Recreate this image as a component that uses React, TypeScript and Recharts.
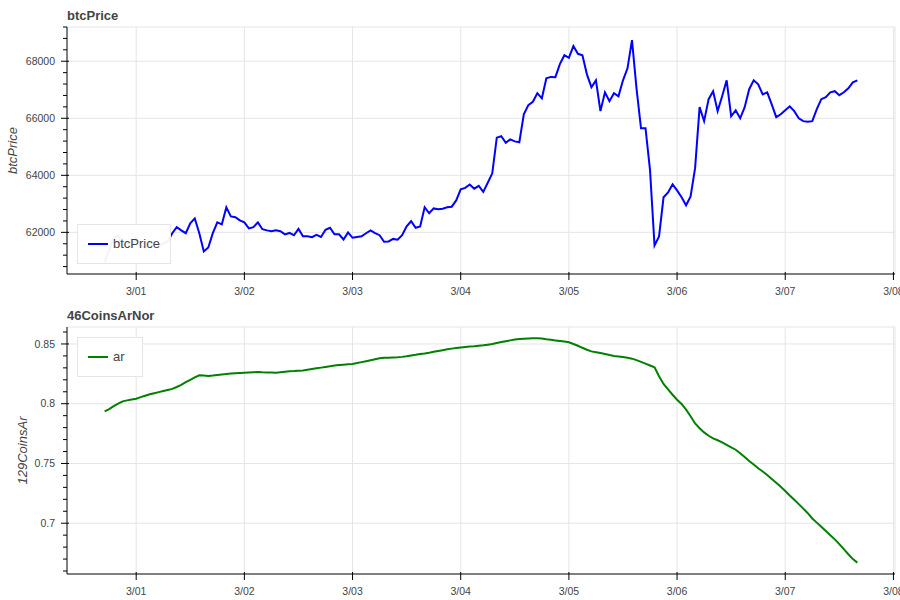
import React from 'react';
import { LineChart, Line, XAxis, YAxis, CartesianGrid, Legend } from 'recharts';

// hourly samples; hour counted from 2/28 00:00, first sample at 2/28 17:00
const START_HOUR = 17;

const btcPrice = [
  60950, 61370, 61790, 61900, 61540, 61650, 61470, 61790,
  61540, 61440, 61610, 61650, 61510, 61610, 61680, 61970,
  62180, 62070, 61970, 62320, 62490, 61970, 61330, 61470,
  61970, 62350, 62280, 62880, 62560, 62530, 62420, 62350,
  62140, 62180, 62350, 62110, 62070, 62040, 62070, 62040,
  61930, 61980, 61900, 62120, 61860, 61860, 61830, 61910,
  61840, 62090, 62160, 61930, 61930, 61750, 62000, 61810,
  61840, 61860, 61970, 62070, 61970, 61900, 61670, 61680,
  61770, 61740, 61900, 62210, 62390, 62160, 62210, 62880,
  62670, 62840, 62810, 62830, 62880, 62900, 63120, 63510,
  63560, 63680, 63530, 63630, 63420, 63740, 64070, 65320,
  65370, 65140, 65260, 65190, 65160, 66140, 66460, 66580,
  66880, 66700, 67400, 67450, 67440, 67900, 68210, 68120,
  68530, 68260, 68210, 67540, 67090, 67330, 66250, 66910,
  66600, 66880, 66770, 67330, 67750, 68740, 67050, 65650,
  65650, 64180, 61540, 61860, 63230, 63400, 63680, 63470,
  63230, 62950, 63260, 64250, 66390, 65900, 66670, 66950,
  66250, 66770, 67330, 66070, 66280, 66000, 66390, 67020,
  67330, 67190, 66840, 66910, 66490, 66040, 66140, 66280,
  66420, 66250, 66000, 65900, 65880, 65900, 66320, 66670,
  66740, 66910, 66950, 66810, 66910, 67050, 67260, 67330,
];

const arValues = [
  0.7935, 0.7955, 0.798, 0.8, 0.802, 0.8028, 0.8035, 0.8042,
  0.8055, 0.8067, 0.8079, 0.8088, 0.8097, 0.8106, 0.8115, 0.8124,
  0.814, 0.8157, 0.818, 0.82, 0.822, 0.8238, 0.8236, 0.8233,
  0.8236, 0.8241, 0.8245, 0.8249, 0.8252, 0.8255, 0.8258, 0.826,
  0.8262, 0.8264, 0.8265, 0.8263, 0.8262, 0.8261, 0.826, 0.8264,
  0.8268, 0.8271, 0.8273, 0.8276, 0.8278, 0.8284, 0.829, 0.8296,
  0.8302, 0.8308, 0.8314, 0.8319, 0.8323, 0.8327, 0.833, 0.8333,
  0.834, 0.8348, 0.8356, 0.8364, 0.8372, 0.838, 0.8385, 0.8384,
  0.8386, 0.8388, 0.8392, 0.8397, 0.8403, 0.8409, 0.8416, 0.8421,
  0.8427, 0.8434, 0.8441, 0.8448, 0.8455, 0.8461, 0.8466, 0.847,
  0.8474, 0.8478, 0.8481, 0.8485, 0.8489, 0.8494, 0.8499, 0.8508,
  0.8516, 0.8523, 0.853, 0.8537, 0.8541, 0.8544, 0.8546, 0.8547,
  0.8547, 0.8546, 0.854, 0.8535, 0.853, 0.8525, 0.852, 0.8514,
  0.85, 0.8485, 0.8468, 0.8452, 0.8438, 0.8431, 0.8424, 0.8416,
  0.8408, 0.84, 0.8395, 0.839, 0.8384, 0.8377, 0.8365, 0.835,
  0.8335, 0.832, 0.8305, 0.823, 0.8165, 0.812, 0.8075, 0.8033,
  0.7998, 0.795, 0.7895, 0.7835, 0.7795, 0.776, 0.7732, 0.771,
  0.7694, 0.7676, 0.7655, 0.7635, 0.7615, 0.7585, 0.7555, 0.752,
  0.7492, 0.746, 0.7433, 0.7404, 0.7371, 0.7338, 0.7305, 0.727,
  0.7232, 0.7196, 0.716, 0.7122, 0.7084, 0.704, 0.7005, 0.697,
  0.6935, 0.69, 0.6865, 0.6825, 0.6783, 0.674, 0.67, 0.667,
];

const xTickHours = [24, 48, 72, 96, 120, 144, 168, 192];
const xTickLabels = ['3/01', '3/02', '3/03', '3/04', '3/05', '3/06', '3/07', '3/08'];
const xDomain: [number, number] = [8.65, 192.35];

const btcTicks = [
  60800, 61200, 61600, 62000, 62400, 62800, 63200, 63600, 64000, 64400, 64800,
  65200, 65600, 66000, 66400, 66800, 67200, 67600, 68000, 68400, 68800, 69200,
];
const btcMajor = [62000, 64000, 66000, 68000];
const btcDomain: [number, number] = [60540, 69200];

const arTicks = [
  0.66, 0.67, 0.68, 0.69, 0.7, 0.71, 0.72, 0.73, 0.74, 0.75, 0.76,
  0.77, 0.78, 0.79, 0.8, 0.81, 0.82, 0.83, 0.84, 0.85, 0.86,
];
const arMajor = [0.7, 0.75, 0.8, 0.85];
const arDomain: [number, number] = [0.6575, 0.8642];

const btcData = btcPrice.map((v, i) => ({ h: START_HOUR + i, btcPrice: v }));
const arData = arValues.map((v, i) => ({ h: START_HOUR + i, ar: v }));

const TEXT = '#444444';
const GRID = '#e5e5e5';
const TICK_SIZE = 6;
const Y_TICK_MARGIN = 6;
const X_TICK_MARGIN = 8;

const XTick = (props: any) => {
  const { x, y, payload } = props;
  const axisY = y - TICK_SIZE - X_TICK_MARGIN;
  const idx = xTickHours.indexOf(payload.value);
  return (
    <g>
      <line x1={x} x2={x} y1={axisY - 2} y2={axisY + 6} stroke="#000" strokeWidth={1} />
      <text x={x} y={y} dy="0.71em" textAnchor="middle" fontSize={10.5} fill={TEXT}>
        {idx >= 0 ? xTickLabels[idx] : ''}
      </text>
    </g>
  );
};

const makeYTick = (majors: number[]) => (props: any) => {
  const { x, y, payload } = props;
  const axisX = x + TICK_SIZE + Y_TICK_MARGIN;
  const major = majors.indexOf(payload.value) >= 0;
  return (
    <g>
      <line
        x1={axisX - (major ? 6 : 4)}
        x2={axisX + (major ? 2 : 0)}
        y1={y}
        y2={y}
        stroke="#000"
        strokeWidth={1}
      />
      {major && (
        <text x={x} y={y} dy="0.355em" textAnchor="end" fontSize={10.5} fill={TEXT}>
          {String(payload.value)}
        </text>
      )}
    </g>
  );
};

const makeAxisDecor = (title: string, label: string, labelX: number) => (props: any) => {
  const vb = props.viewBox || props;
  const lx = vb.x + labelX;
  const ly = vb.y + vb.height / 2;
  return (
    <g>
      <text
        x={lx}
        y={ly}
        dy="0.35em"
        transform={`rotate(-90 ${lx} ${ly})`}
        textAnchor="middle"
        fontStyle="italic"
        fontSize={13}
        fill={TEXT}
      >
        {label}
      </text>
      <text x={vb.x + vb.width} y={vb.y - 7} fontWeight="bold" fontSize={13} fill={TEXT}>
        {title}
      </text>
    </g>
  );
};

const LegendBox = ({ color, label, width }: { color: string; label: string; width: number }) => (
  <div
    style={{
      boxSizing: 'border-box',
      width,
      height: 40,
      border: `1px solid ${GRID}`,
      background: 'rgba(255,255,255,0.95)',
      display: 'flex',
      alignItems: 'center',
      paddingLeft: 10,
      fontSize: 13,
      color: TEXT,
    }}
  >
    <svg width={20} height={4} style={{ display: 'block' }}>
      <line x1={0} x2={20} y1={2} y2={2} stroke={color} strokeWidth={2} />
    </svg>
    <span style={{ marginLeft: 5, lineHeight: '16px' }}>{label}</span>
  </div>
);

export default function App() {
  return (
    <div
      style={{
        position: 'absolute',
        left: 0,
        top: 0,
        width: 900,
        height: 600,
        overflow: 'hidden',
        background: '#fff',
        fontFamily: '"Liberation Sans", Arial, Helvetica, sans-serif',
      }}
    >
      <div style={{ position: 'absolute', left: 0, top: 0 }}>
        <LineChart width={900} height={300} data={btcData} margin={{ top: 27, right: 5, bottom: 0, left: 0 }}>
          <CartesianGrid
            stroke={GRID}
            horizontalValues={[...btcMajor, btcDomain[1]]}
            verticalValues={[...xTickHours, xDomain[1]]}
          />
          <XAxis
            dataKey="h"
            type="number"
            domain={xDomain}
            ticks={xTickHours}
            interval={0}
            height={26}
            tickSize={TICK_SIZE}
            tickMargin={X_TICK_MARGIN}
            tickLine={false}
            axisLine={{ stroke: '#000' }}
            tick={XTick}
          />
          <YAxis
            type="number"
            domain={btcDomain}
            ticks={btcTicks}
            interval={0}
            width={67}
            tickSize={TICK_SIZE}
            tickMargin={Y_TICK_MARGIN}
            tickLine={false}
            axisLine={{ stroke: '#000' }}
            tick={makeYTick(btcMajor)}
            label={makeAxisDecor('btcPrice', 'btcPrice', 12)}
          />
          <Legend
            layout="vertical"
            align="center"
            verticalAlign="middle"
            wrapperStyle={{ left: 77, top: 224, width: 94, height: 40, margin: 0, padding: 0 }}
            content={() => <LegendBox color="#0000ff" label="btcPrice" width={94} />}
          />
          <Line
            type="linear"
            dataKey="btcPrice"
            stroke="#0000ff"
            strokeWidth={2}
            dot={false}
            isAnimationActive={false}
          />
        </LineChart>
      </div>
      <div style={{ position: 'absolute', left: 0, top: 300 }}>
        <LineChart width={900} height={300} data={arData} margin={{ top: 27, right: 5, bottom: 0, left: 0 }}>
          <CartesianGrid
            stroke={GRID}
            horizontalValues={[...arMajor, arDomain[1]]}
            verticalValues={[...xTickHours, xDomain[1]]}
          />
          <XAxis
            dataKey="h"
            type="number"
            domain={xDomain}
            ticks={xTickHours}
            interval={0}
            height={26}
            tickSize={TICK_SIZE}
            tickMargin={X_TICK_MARGIN}
            tickLine={false}
            axisLine={{ stroke: '#000' }}
            tick={XTick}
          />
          <YAxis
            type="number"
            domain={arDomain}
            ticks={arTicks}
            interval={0}
            width={67}
            tickSize={TICK_SIZE}
            tickMargin={Y_TICK_MARGIN}
            tickLine={false}
            axisLine={{ stroke: '#000' }}
            tick={makeYTick(arMajor)}
            label={makeAxisDecor('46CoinsArNor', '129CoinsAr', 22)}
          />
          <Legend
            layout="vertical"
            align="center"
            verticalAlign="middle"
            wrapperStyle={{ left: 77, top: 37, width: 66, height: 40, margin: 0, padding: 0 }}
            content={() => <LegendBox color="#008000" label="ar" width={66} />}
          />
          <Line
            type="linear"
            dataKey="ar"
            stroke="#008000"
            strokeWidth={2}
            dot={false}
            isAnimationActive={false}
          />
        </LineChart>
      </div>
    </div>
  );
}
